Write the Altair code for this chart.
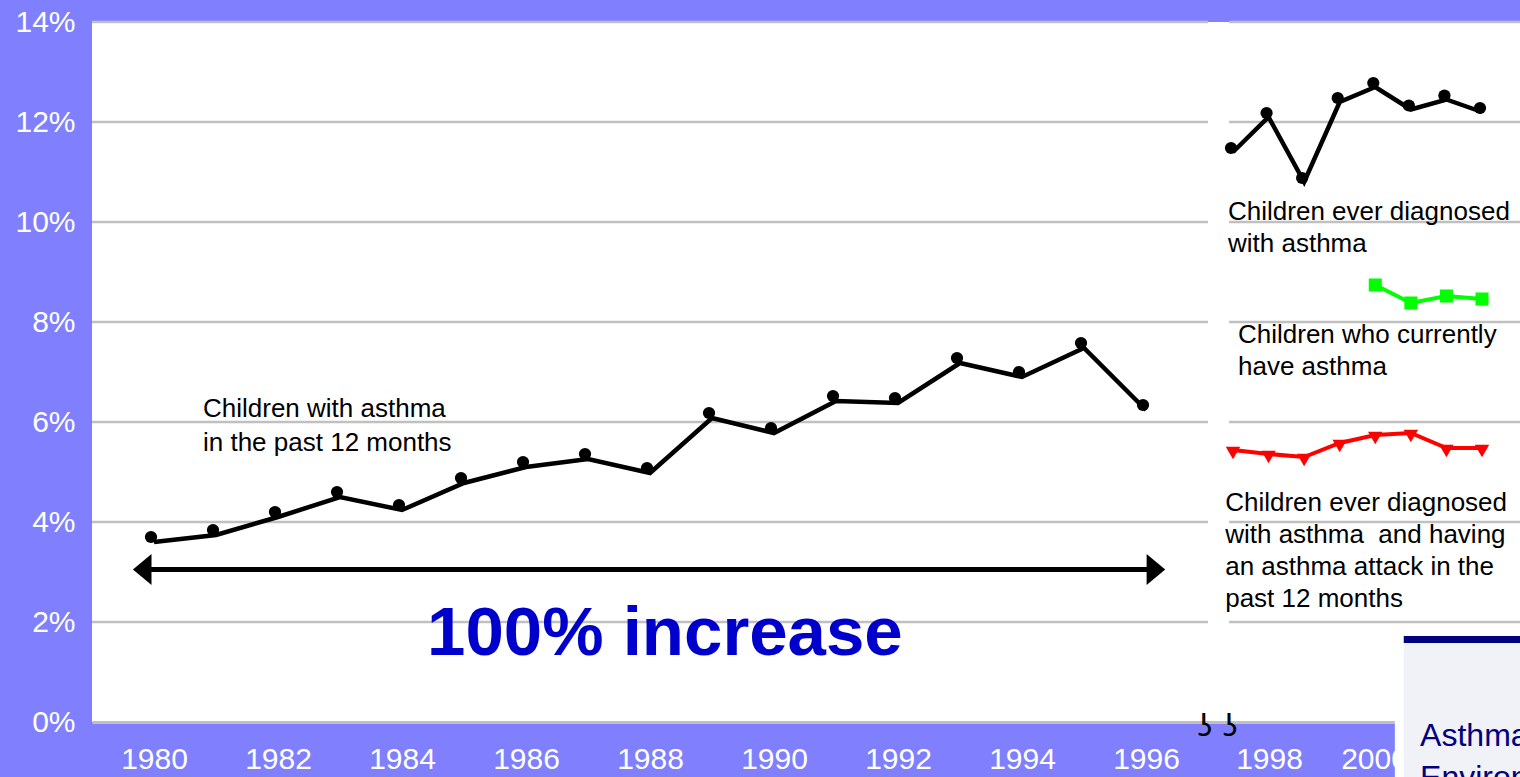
import altair as alt
import pandas as pd

# Children with asthma in the past 12 months, 1980-1996 (percent)
PAST_YEARS = list(range(1980, 1997))
PAST_12_MONTHS = [3.6, 3.74, 4.1, 4.5, 4.24, 4.78, 5.1, 5.26, 4.98, 6.08,
                  5.78, 6.42, 6.38, 7.18, 6.9, 7.48, 6.24]

# Survey series from 1997 on (percent)
NEW_YEARS = list(range(1997, 2005))
EVER_DIAGNOSED = [11.4, 12.1, 10.8, 12.4, 12.7, 12.25, 12.45, 12.2]
ATTACK_PAST_12 = [5.44, 5.36, 5.3, 5.58, 5.74, 5.78, 5.48, 5.48]
CURRENT_YEARS = [2001, 2002, 2003, 2004]
CURRENT_ASTHMA = [8.74, 8.38, 8.52, 8.46]

Y_TICKS = [0, 2, 4, 6, 8, 10, 12, 14]
GRID_VALUES = [2, 4, 6, 8, 10, 12, 14]
X_TICKS = [1980, 1982, 1984, 1986, 1988, 1990, 1992, 1994, 1996, 1998, 2000]

LEFT_NOTES = ["Children with asthma", "in the past 12 months"]
EVER_NOTES = ["Children ever diagnosed", "with asthma"]
CURRENT_NOTES = ["Children who currently", "have asthma"]
ATTACK_NOTES = ["Children ever diagnosed", "with asthma\u00a0 and having",
                "an asthma attack in the", "past 12 months"]
INCREASE_TEXT = "100% increase"
INSET_LINES = ["Asthma", "Environment"]

BG = "#8080FF"
GRID = "#C0C0C0"
FONT = "Liberation Sans"
W, H = 1428, 700

# broken time axis: 1979-1997 on the left, axis labels after the break
XL_SCALE = alt.Scale(domain=[1979, 1997, 1998, 2004], range=[0, 1116, 1177, 1492],
                     zero=False, nice=False)
# the post-1997 series have their own horizontal scale
XR_SCALE = alt.Scale(domain=[1997, 2004], range=[1141, 1390], zero=False, nice=False)
Y_SCALE = alt.Scale(domain=[0, 14], zero=True, nice=False)

X_AXIS = alt.Axis(values=X_TICKS, format="d", title=None, grid=False,
                  domain=True, domainColor=GRID, domainWidth=3,
                  ticks=False, tickSize=0, labelPadding=22,
                  labelColor="white", labelFont=FONT, labelFontSize=30,
                  labelOverlap=False, labelFlush=False)
Y_AXIS = alt.Axis(values=Y_TICKS, labelExpr="datum.value + '%'", title=None,
                  grid=False, domain=False, ticks=False, tickSize=0,
                  labelPadding=17, labelColor="white", labelFont=FONT,
                  labelFontSize=30)


def xl(field):
    return alt.X(f"{field}:Q", scale=XL_SCALE, axis=X_AXIS)


def xr(field):
    return alt.X(f"{field}:Q", scale=XR_SCALE, axis=None)


def yv(field="v"):
    return alt.Y(f"{field}:Q", scale=Y_SCALE, axis=Y_AXIS)


def note_frame(lines, x, first, step):
    return pd.DataFrame({"x": [x] * len(lines),
                         "v": [first - i * step for i in range(len(lines))],
                         "label": lines})


# ---------- left part: 1980-1996 ----------
past = pd.DataFrame({"year": PAST_YEARS, "v": PAST_12_MONTHS})
grid_left = pd.DataFrame({"x0": 1979, "x1": 1997, "v": GRID_VALUES})
shaft = pd.DataFrame({"x0": [1979.9], "x1": [1996.1], "v": [3.05]})
head_l = pd.DataFrame({"x": [1979.66], "v": [3.05]})
head_r = pd.DataFrame({"x": [1996.31], "v": [3.05]})
left_notes = note_frame(LEFT_NOTES, 1980.79, 6.10, 0.68)
increase = pd.DataFrame({"x": [1988.24], "v": [1.34], "label": [INCREASE_TEXT]})
brk_left = pd.DataFrame({"x": [1996.95], "v": [-0.28], "label": ["ʖ"]})

left = alt.layer(
    alt.Chart(grid_left).mark_rule(color=GRID, strokeWidth=2.5).encode(
        x=xl("x0"), x2="x1", y=yv()),
    alt.Chart(shaft).mark_rule(color="black", strokeWidth=5).encode(
        x=xl("x0"), x2="x1", y=yv()),
    alt.Chart(head_l).mark_point(shape="M0,0L1.2,-1L1.2,1Z", size=961, filled=True,
                                 color="black", opacity=1).encode(x=xl("x"), y=yv()),
    alt.Chart(head_r).mark_point(shape="M0,0L-1.2,-1L-1.2,1Z", size=961, filled=True,
                                 color="black", opacity=1).encode(x=xl("x"), y=yv()),
    alt.Chart(past).mark_line(color="black", strokeWidth=4.5).encode(
        x=xl("year"), y=yv()),
    alt.Chart(past).mark_point(filled=True, size=150, color="black", opacity=1,
                               xOffset=-3, yOffset=-5).encode(x=xl("year"), y=yv()),
    alt.Chart(left_notes).mark_text(align="left", baseline="alphabetic", font=FONT,
                                    fontSize=26, color="black").encode(
        x=xl("x"), y=yv(), text="label:N"),
    alt.Chart(increase).mark_text(align="center", baseline="alphabetic", font=FONT,
                                  fontSize=69, fontWeight="bold",
                                  color="#0000CC").encode(
        x=xl("x"), y=yv(), text="label:N"),
    alt.Chart(brk_left).mark_text(align="center", baseline="alphabetic",
                                  font="DejaVu Sans", fontSize=30,
                                  color="black").encode(
        x=xl("x"), y=yv(), text="label:N"),
)

# ---------- right part: 1997-2004 ----------
ever = pd.DataFrame({"year": NEW_YEARS, "v": EVER_DIAGNOSED})
attack = pd.DataFrame({"year": NEW_YEARS, "v": ATTACK_PAST_12})
current = pd.DataFrame({"year": CURRENT_YEARS, "v": CURRENT_ASTHMA})
grid_right = pd.DataFrame({"x0": 1996.89, "x1": 2006, "v": GRID_VALUES})
right_notes = pd.concat([
    note_frame(EVER_NOTES, 1996.86, 10.04, 0.63),
    note_frame(CURRENT_NOTES, 1997.14, 7.58, 0.64),
    note_frame(ATTACK_NOTES, 1996.78, 4.22, 0.64),
])
brk_right = pd.DataFrame({"x": [1996.92], "v": [-0.28], "label": ["ʖ"]})
inset_back = pd.DataFrame({"x0": [2001.55], "x1": [2007], "v": [1.8], "v1": [-2]})
inset_panel = pd.DataFrame({"x0": [2001.8], "x1": [2007], "v": [1.58], "v1": [-2]})
inset_bar = pd.DataFrame({"x0": [2001.8], "x1": [2007], "v": [1.72], "v1": [1.58]})
inset_text = pd.DataFrame({"x": [2002.26, 2002.26], "v": [-0.48, -1.32],
                           "label": INSET_LINES})

right = alt.layer(
    alt.Chart(grid_right).mark_rule(color=GRID, strokeWidth=2.5).encode(
        x=xr("x0"), x2="x1", y=yv()),
    alt.Chart(ever).mark_line(color="black", strokeWidth=4.5).encode(
        x=xr("year"), y=yv()),
    alt.Chart(ever).mark_point(filled=True, size=150, color="black", opacity=1,
                               xOffset=-2, yOffset=-4).encode(x=xr("year"), y=yv()),
    alt.Chart(current).mark_line(color="#00FF00", strokeWidth=4).encode(
        x=xr("year"), y=yv()),
    alt.Chart(current).mark_point(shape="square", filled=True, size=170,
                                  color="#00FF00", opacity=1).encode(
        x=xr("year"), y=yv()),
    alt.Chart(attack).mark_line(color="#FF0000", strokeWidth=4).encode(
        x=xr("year"), y=yv()),
    alt.Chart(attack).mark_point(shape="triangle-down", filled=True, size=210,
                                 color="#FF0000", opacity=1, yOffset=3).encode(
        x=xr("year"), y=yv()),
    alt.Chart(right_notes).mark_text(align="left", baseline="alphabetic", font=FONT,
                                     fontSize=26, color="black").encode(
        x=xr("x"), y=yv(), text="label:N"),
    alt.Chart(brk_right).mark_text(align="center", baseline="alphabetic",
                                   font="DejaVu Sans", fontSize=30,
                                   color="black").encode(
        x=xr("x"), y=yv(), text="label:N"),
    alt.Chart(inset_back).mark_rect(color="white").encode(
        x=xr("x0"), x2="x1", y=yv(), y2="v1"),
    alt.Chart(inset_panel).mark_rect(color="#F1F1F8").encode(
        x=xr("x0"), x2="x1", y=yv(), y2="v1"),
    alt.Chart(inset_bar).mark_rect(color="#000080").encode(
        x=xr("x0"), x2="x1", y=yv(), y2="v1"),
    alt.Chart(inset_text).mark_text(align="left", baseline="alphabetic", font=FONT,
                                    fontSize=32, color="#000080").encode(
        x=xr("x"), y=yv(), text="label:N"),
)

chart = alt.layer(left, right).resolve_scale(x="independent").properties(
    width=W, height=H,
    background=BG,
    padding={"left": 92, "top": 22, "right": 0, "bottom": 55},
    autosize=alt.AutoSizeParams(type="none"),
).configure_view(fill="white", stroke=None)

chart.save("out.html", embed_options={"renderer": "svg", "actions": False})
